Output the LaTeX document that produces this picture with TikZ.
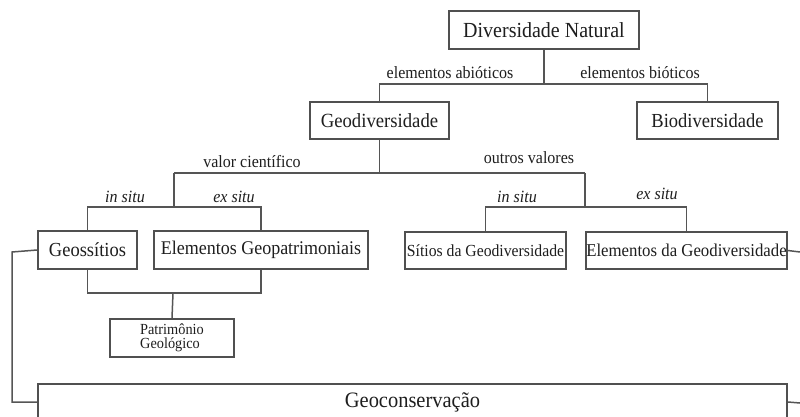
\documentclass[tikz,border=0pt]{standalone}
\usepackage{fontspec}
\setmainfont{Liberation Serif}[FakeStretch=0.93]
\newcommand{\fsz}[1]{\fontsize{#1}{#1}\selectfont}
\begin{document}
\begin{tikzpicture}[x=1pt,y=-1pt,
  box/.style={draw=boxgray, line width=1.7pt, fill=white, inner sep=0pt, text=txt},
  conn/.style={draw=linegray, line width=1.5pt},
  lbl/.style={anchor=base, inner sep=0pt, text=txt, font=\fsz{17.2}},
  ilbl/.style={lbl, font=\fsz{17.2}\itshape}]
\definecolor{boxgray}{HTML}{505050}
\definecolor{linegray}{HTML}{555555}
\definecolor{txt}{HTML}{1E1E1E}
\useasboundingbox (0,0) rectangle (800,417);
\clip (0,0) rectangle (800,417);
\fill[white] (0,0) rectangle (800,417);

% junction coordinates
\coordinate (j1) at (544,84);
\coordinate (j2) at (379.5,173);
\coordinate (j3) at (174,173);
\coordinate (j4) at (585,173);
\coordinate (j5) at (174,207);
\coordinate (j6) at (585,207);
\coordinate (j7) at (173,293);
\coordinate (jl) at (12,252);
\coordinate (er) at (800,252);
\coordinate (gr) at (800,403);

% boxes
\node[box, minimum width=190pt, minimum height=38pt, font=\fsz{21.5}] (DN) at (544,30) {Diversidade Natural};
\node[box, minimum width=139pt, minimum height=37pt, font=\fsz{20.1}] (Geo) at (379.5,120.5) {Geodiversidade};
\node[box, minimum width=141pt, minimum height=37pt, font=\fsz{19.9}] (Bio) at (707.5,120.5) {Biodiversidade};
\node[box, minimum width=99pt, minimum height=38pt, font=\fsz{19.9}] (Geos) at (87.5,250) {Geossítios};
\node[box, minimum width=214pt, minimum height=38pt, font=\fsz{19.35}] (EGP) at (261,250) {Elementos Geopatrimoniais};
\node[box, minimum width=161pt, minimum height=37pt, font=\fsz{16.9}] (Sit) at (485.5,250.5) {Sítios da Geodiversidade};
\node[box, minimum width=201pt, minimum height=37pt, font=\fsz{18.05}] (EdG) at (686.5,250.5) {Elementos da Geodiversidade};
\node[box, minimum width=124pt, minimum height=38pt, align=left, font=\fontsize{15.4}{14}\selectfont] (Pat) at (172,338) {Patrimônio\\Geológico};
\node[box, minimum width=749pt, minimum height=36pt, font=\fsz{22}] (GC) at (412.5,402) {Geoconservação};

% connector lines
\draw[conn] (DN.south) -- (j1);
\draw[conn] (Geo.north) |- (j1) -| (Bio.north);
\draw[conn] (Geo.south) -- (j2);
\draw[conn] (j3) -- (j4);
\draw[conn] (j3) -- (j5);
\draw[conn] (j4) -- (j6);
\draw[conn] (Geos.north) |- (j5) -| (EGP.north);
\draw[conn] (Sit.north) |- (j6) -| (EdG.north);
\draw[conn] (Geos.south) |- (j7) -| (EGP.south);
\draw[conn] (j7) -- (Pat.north);
\draw[conn] (Geos.west) -- (jl) |- (GC.west);
\draw[conn] (EdG.east) -- (er);
\draw[conn] (GC.east) -- (gr);

% labels
\node[lbl] (la1) at (450,79) {elementos abióticos};
\node[lbl] (la2) at (640,79) {elementos bióticos};
\node[lbl] (la3) at (252,167) {valor científico};
\node[lbl] (la4) at (529,163) {outros valores};
\node[ilbl] (la5) at (125,202) {in situ};
\node[ilbl] (la6) at (234,202) {ex situ};
\node[ilbl] (la7) at (517,202) {in situ};
\node[ilbl] (la8) at (657,199) {ex situ};
\end{tikzpicture}
\end{document}
